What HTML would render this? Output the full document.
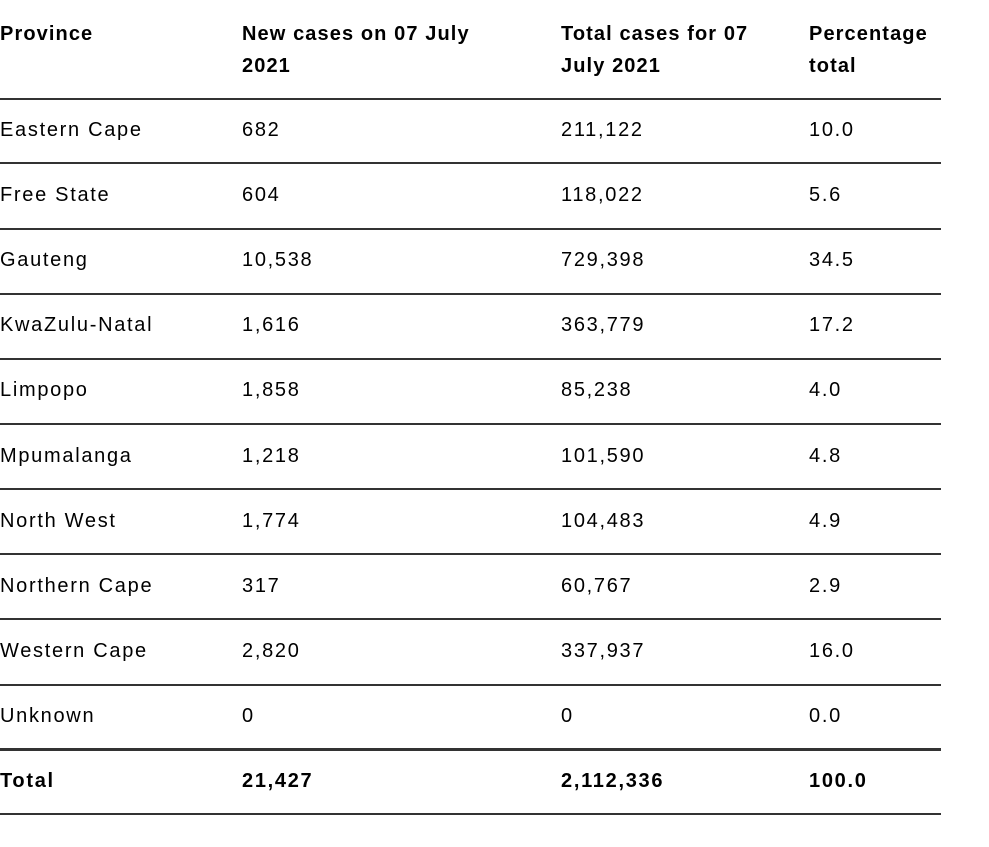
<!DOCTYPE html>
<html><head><meta charset="utf-8"><style>
body{margin:0;width:989px;height:847px;background:#fff;position:relative;overflow:hidden;font-family:"Liberation Sans",sans-serif;color:#000}
.t{position:absolute;font-size:20px;letter-spacing:1.7px;line-height:32px;white-space:nowrap}
.b{font-weight:bold}
.h{letter-spacing:1.1px}
.l{position:absolute;left:0;width:941px;background:#333;height:1.5px}
</style></head><body>
<div id="tbl"></div>
<script>
const provinces=["Eastern Cape","Free State","Gauteng","KwaZulu-Natal","Limpopo","Mpumalanga","North West","Northern Cape","Western Cape","Unknown"];
const newCases=["682","604","10,538","1,616","1,858","1,218","1,774","317","2,820","0"];
const totalCases=["211,122","118,022","729,398","363,779","85,238","101,590","104,483","60,767","337,937","0"];
const pct=["10.0","5.6","34.5","17.2","4.0","4.8","4.9","2.9","16.0","0.0"];
const cols=[0,242,561,809];
const tbl=document.getElementById('tbl');
function txt(x,y,s,cls,name){const d=document.createElement('div');d.className='t '+cls;d.style.left=x+'px';d.style.top=(y-16)+'px';d.textContent=s;


tbl.appendChild(d);}
function line(y,h,name){const d=document.createElement('div');d.className='l';d.style.top=y+'px';if(h)d.style.height=h+'px';


tbl.appendChild(d);}
const heads=[["Province",""],["New cases on 07 July","2021"],["Total cases for 07","July 2021"],["Percentage","total"]];
heads.forEach((h,i)=>{txt(cols[i],34,h[0],'b h','header-cell');if(h[1])txt(cols[i],66,h[1],'b h','header-cell');});
line(98,1.5,'header-rule');
const lines=[162,228,293,358,423,488,553,618,684];
provinces.forEach((p,i)=>{const y=130+i*65.1;
txt(cols[0],y,p,'','province-cell');txt(cols[1],y,newCases[i],'','new-cases-cell');txt(cols[2],y,totalCases[i],'','total-cases-cell');txt(cols[3],y,pct[i],'','percentage-cell');
if(i<9)line(lines[i],1.5,'row-rule');});
line(748,2.5,'total-rule');
txt(cols[0],781,"Total",'b','total-label');txt(cols[1],781,"21,427",'b','total-new-cases');txt(cols[2],781,"2,112,336",'b','total-cases');txt(cols[3],781,"100.0",'b','total-percentage');
line(813,1.5,'bottom-rule');
</script>
</body></html>
